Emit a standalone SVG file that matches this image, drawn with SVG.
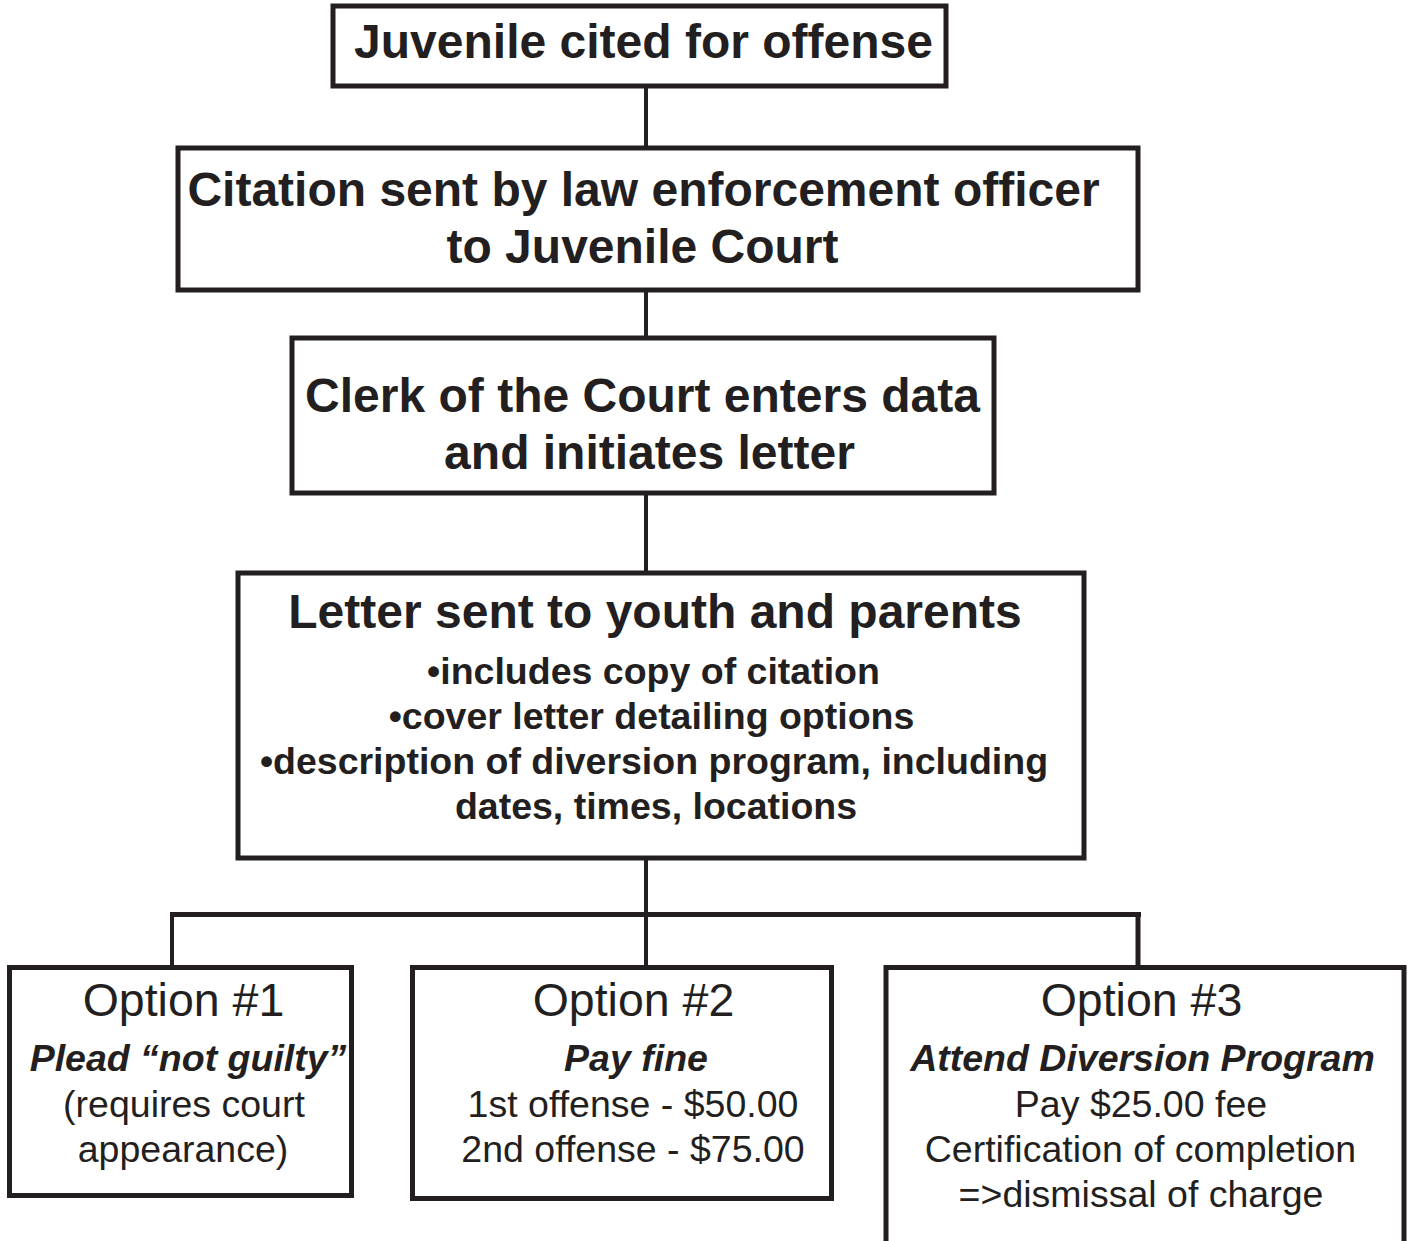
<svg xmlns="http://www.w3.org/2000/svg" width="1411" height="1241" viewBox="0 0 1411 1241">
<style>
.box{fill:#fff;stroke:#231f20;stroke-width:5}
.ln{stroke:#231f20;stroke-width:4;fill:none}
text{font-family:"Liberation Sans",Arial,sans-serif;fill:#231f20;text-anchor:middle}
.h{font-weight:bold;font-size:48px}
.b{font-weight:bold;font-size:37.5px}
.o{font-size:46.5px}
.bi{font-weight:bold;font-style:italic;font-size:37.5px}
.r{font-size:37.5px}
</style>
<rect width="1411" height="1241" fill="#fff"/>
<g id="connectors">
<line class="ln" x1="646" y1="87" x2="646" y2="146"/>
<line class="ln" x1="646" y1="291" x2="646" y2="336"/>
<line class="ln" x1="646" y1="494" x2="646" y2="571"/>
<line class="ln" x1="646" y1="860" x2="646" y2="966"/>
<line class="ln" x1="170" y1="914.5" x2="1141" y2="914.5" style="stroke-width:5"/>
<line class="ln" x1="172" y1="914" x2="172" y2="966"/>
<line class="ln" x1="1138" y1="914" x2="1138" y2="966" style="stroke-width:5"/>
</g>
<g id="n1">
<rect class="box" x="333" y="6" width="613" height="80"/>
<text class="h" x="643.5" y="58">Juvenile cited for offense</text>
</g>
<g id="n2">
<rect class="box" x="178" y="148" width="960" height="142"/>
<text class="h" x="643.5" y="206">Citation sent by law enforcement officer</text>
<text class="h" x="642.5" y="263">to Juvenile Court</text>
</g>
<g id="n3">
<rect class="box" x="292" y="338" width="702" height="155"/>
<text class="h" x="642.5" y="412">Clerk of the Court enters data</text>
<text class="h" x="649.5" y="469">and initiates letter</text>
</g>
<g id="n4">
<rect class="box" x="238" y="573" width="846" height="285"/>
<text class="h" x="655" y="628">Letter sent to youth and parents</text>
<text class="b" x="653.5" y="684">•includes copy of citation</text>
<text class="b" x="651.5" y="729">•cover letter detailing options</text>
<text class="b" x="654" y="774">•description of diversion program, including</text>
<text class="b" x="656" y="819">dates, times, locations</text>
</g>
<g id="opt1">
<rect class="box" x="9.5" y="967.5" width="342" height="228"/>
<text class="o" x="183.5" y="1016">Option #1</text>
<text class="bi" x="188" y="1071">Plead “not guilty”</text>
<text class="r" x="184" y="1117">(requires court</text>
<text class="r" x="183" y="1162">appearance)</text>
</g>
<g id="opt2">
<rect class="box" x="412.5" y="967.5" width="419" height="231"/>
<text class="o" x="633.5" y="1016">Option #2</text>
<text class="bi" x="636" y="1071">Pay fine</text>
<text class="r" x="633" y="1117">1st offense - $50.00</text>
<text class="r" x="633" y="1162">2nd offense - $75.00</text>
</g>
<g id="opt3">
<path class="box" d="M886,1245 V967.5 H1404 V1245"/>
<text class="o" x="1141.5" y="1016">Option #3</text>
<text class="bi" x="1142.5" y="1071">Attend Diversion Program</text>
<text class="r" x="1141" y="1117">Pay $25.00 fee</text>
<text class="r" x="1140.5" y="1162">Certification of completion</text>
<text class="r" x="1141" y="1207">=&gt;dismissal of charge</text>
</g>
</svg>
